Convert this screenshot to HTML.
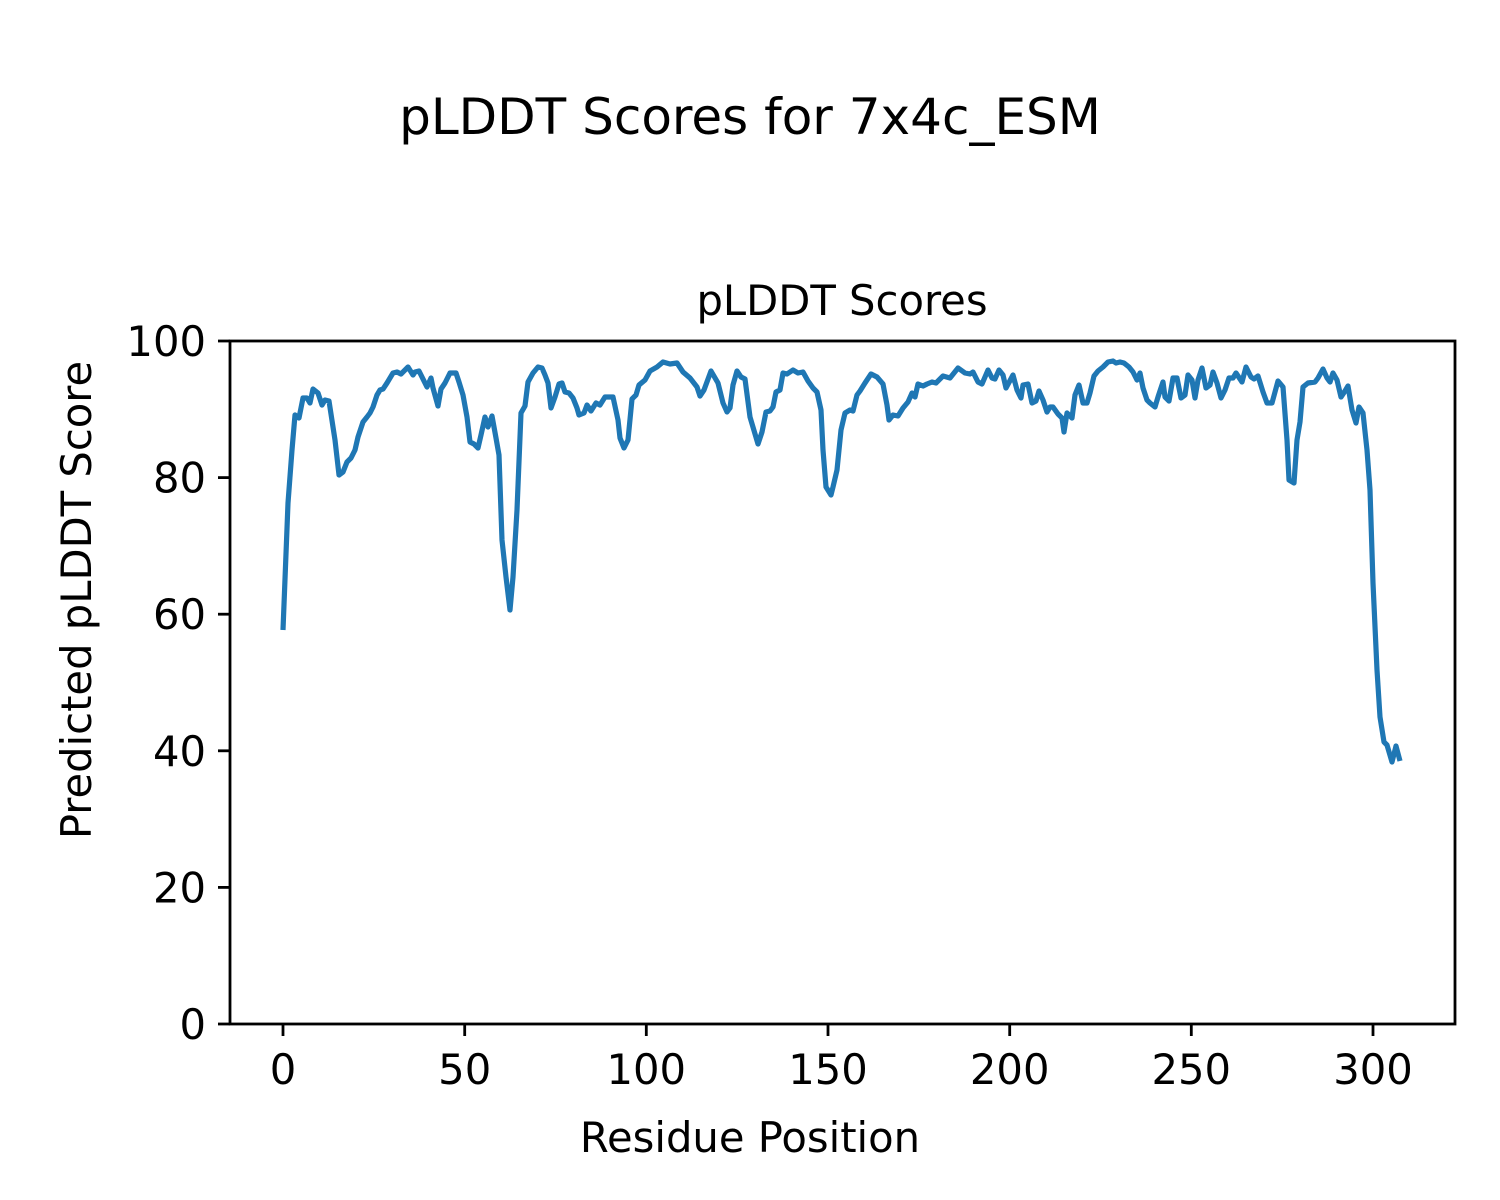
<!DOCTYPE html>
<html><head><meta charset="utf-8"><style>body{margin:0;background:#fff}svg{display:block}text{font-family:"DejaVu Sans","Liberation Sans",sans-serif;fill:#000}</style></head>
<body>
<svg width="1500" height="1200" viewBox="0 0 1500 1200" xmlns="http://www.w3.org/2000/svg">
<rect width="1500" height="1200" fill="#fff"/>
<text x="750" y="134" font-size="50" text-anchor="middle">pLDDT Scores for 7x4c_ESM</text>
<text x="842" y="315" font-size="41.7" text-anchor="middle">pLDDT Scores</text>
<polyline fill="none" stroke="#1f77b4" stroke-width="5.2" stroke-linejoin="round" points="283,630 288,503 292,450 295,415 299,418 303,398 307,398 310,403 313,389 318,393 322,405 325,400 329,401 335,440 339,475 343,472 347,462 351,458 355,450 358,437 363,422 367,417 370,413 373,407 377,395 380,390 383,389 387,383 393,373 397,372 401,374 408,367 413,375 415,372 419,371 423,379 427,387 431,378 433,388 438,406 441,389 445,383 450,373 456,373 459,382 463,395 467,417 470,442 474,444 478,448 481,435 485,417 488,427 492,416 496,438 499,455 502,540 506,577 510,610 513,577 517,510 521,413 525,406 528,382 533,373 538,367 542,368 545,375 548,383 551,408 555,397 559,384 562,383 565,392 569,393 573,398 577,408 579,415 584,413 587,405 591,411 596,403 600,405 605,397 613,397 618,420 620,438 624,448 628,440 632,399 636,395 639,385 645,380 650,371 657,367 663,362 670,364 677,363 683,372 690,378 697,387 700,396 704,390 711,371 718,383 723,403 727,412 730,408 733,385 737,371 741,377 745,379 750,417 758,444 762,432 766,412 770,411 773,407 776,392 780,390 783,373 787,374 793,370 798,373 803,372 808,381 813,388 817,392 821,410 823,450 826,487 831,495 833,487 837,470 841,430 845,413 850,410 853,411 857,395 860,391 865,383 871,374 877,377 883,384 887,405 889,420 893,415 898,416 903,408 908,402 912,393 915,397 918,384 923,386 927,384 932,382 936,383 943,376 950,378 958,368 965,373 970,374 973,372 978,382 982,384 988,370 992,378 995,379 999,370 1003,375 1006,388 1013,375 1017,390 1021,398 1023,385 1028,384 1032,403 1036,401 1039,391 1043,400 1047,412 1050,407 1053,407 1058,414 1062,418 1064,432 1067,413 1072,418 1075,395 1079,385 1083,403 1087,403 1090,393 1094,376 1098,371 1103,367 1108,362 1113,361 1116,363 1120,362 1124,363 1129,367 1133,372 1137,380 1140,373 1143,388 1147,400 1150,403 1155,407 1158,397 1163,382 1165,397 1169,401 1173,378 1177,378 1181,398 1185,395 1188,375 1192,380 1195,398 1198,380 1202,368 1206,388 1210,385 1213,372 1217,383 1221,398 1225,390 1229,378 1233,378 1236,373 1242,382 1246,367 1251,377 1254,379 1258,376 1263,392 1267,403 1272,403 1275,392 1278,381 1283,387 1287,440 1289,480 1294,483 1297,440 1300,422 1303,387 1308,383 1315,382 1318,378 1323,369 1327,378 1330,382 1333,373 1337,380 1341,397 1345,391 1348,386 1352,410 1356,423 1359,407 1363,413 1367,450 1370,490 1373,583 1377,670 1380,717 1384,742 1387,745 1392,762 1396,746 1400,761"/>
<rect x="230" y="341" width="1225" height="683" fill="none" stroke="#000" stroke-width="2.8"/>
<g stroke="#000" stroke-width="2.8">
<line x1="283" y1="1024" x2="283" y2="1036"/><line x1="464.7" y1="1024" x2="464.7" y2="1036"/><line x1="646.3" y1="1024" x2="646.3" y2="1036"/><line x1="828" y1="1024" x2="828" y2="1036"/><line x1="1009.7" y1="1024" x2="1009.7" y2="1036"/><line x1="1191.3" y1="1024" x2="1191.3" y2="1036"/><line x1="1373" y1="1024" x2="1373" y2="1036"/>
<line x1="218" y1="1024" x2="230" y2="1024"/><line x1="218" y1="887.4" x2="230" y2="887.4"/><line x1="218" y1="750.8" x2="230" y2="750.8"/><line x1="218" y1="614.2" x2="230" y2="614.2"/><line x1="218" y1="477.6" x2="230" y2="477.6"/><line x1="218" y1="341" x2="230" y2="341"/>
</g>
<g font-size="41.7" text-anchor="middle">
<text x="283" y="1084">0</text><text x="464.7" y="1084">50</text><text x="646.3" y="1084">100</text><text x="828" y="1084">150</text><text x="1009.7" y="1084">200</text><text x="1191.3" y="1084">250</text><text x="1373" y="1084">300</text>
</g>
<g font-size="41.7" text-anchor="end">
<text x="206" y="1039">0</text><text x="206" y="902.4">20</text><text x="206" y="765.8">40</text><text x="206" y="629.2">60</text><text x="206" y="492.6">80</text><text x="206" y="356">100</text>
</g>
<text x="750" y="1152" font-size="41.7" text-anchor="middle">Residue Position</text>
<text transform="translate(91,600) rotate(-90)" font-size="41.7" text-anchor="middle">Predicted pLDDT Score</text>
</svg>
</body></html>
